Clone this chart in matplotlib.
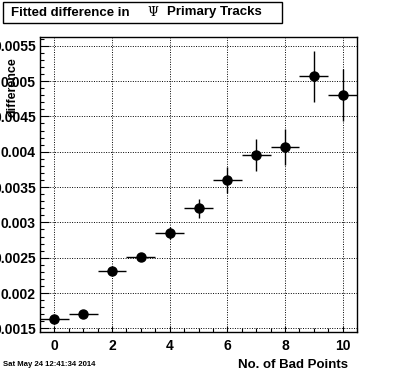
import matplotlib
matplotlib.use("Agg")
import matplotlib.pyplot as plt
from matplotlib.patches import Rectangle
from matplotlib.ticker import MultipleLocator

n_bad = [0, 1, 2, 3, 4, 5, 6, 7, 8, 9, 10]
diff = [0.00163, 0.001705, 0.002318, 0.002507, 0.002851, 0.0032, 0.0036,
        0.00395, 0.004067, 0.005067, 0.004798]
diff_err = [0.00002, 0.00003, 0.00004, 0.00005, 0.00008, 0.000134, 0.000184,
            0.000226, 0.000248, 0.00036, 0.00037]
x_err = [0.5] * len(n_bad)
y_ticks = [0.0015, 0.002, 0.0025, 0.003, 0.0035, 0.004, 0.0045, 0.005, 0.0055]
y_tick_labels = ["0.0015", "0.002", "0.0025", "0.003", "0.0035", "0.004",
                 "0.0045", "0.005", "0.0055"]
x_ticks = [0, 2, 4, 6, 8, 10]

FONT = "Liberation Sans"

fig = plt.figure(figsize=(3.96, 3.72), dpi=100)
ax = fig.add_axes([40/396, 1 - 332/372, (357-40)/396, (332-37)/372])

ax.errorbar(n_bad, diff, yerr=diff_err, xerr=x_err, fmt='o', color='black',
            markersize=6.5, elinewidth=1.0, capsize=0, clip_on=True)

ax.set_xlim(-0.5, 10.5)
ax.set_ylim(0.00145, 0.005623)

ax.set_xticks(x_ticks)
ax.set_xticklabels([str(v) for v in x_ticks])
ax.xaxis.set_minor_locator(MultipleLocator(0.5))
ax.set_yticks(y_ticks)
ax.set_yticklabels(y_tick_labels)
ax.yaxis.set_minor_locator(MultipleLocator(0.0001))

ax.tick_params(axis='both', which='both', direction='in', top=False, right=False,
               color='black', width=0.8)
ax.tick_params(axis='y', which='major', length=6.5, pad=3)
ax.tick_params(axis='y', which='minor', length=3.2)
ax.tick_params(axis='x', which='major', length=4.3, pad=5)
ax.tick_params(axis='x', which='minor', length=2.7)

for lab in ax.get_xticklabels() + ax.get_yticklabels():
    lab.set_fontfamily(FONT)
    lab.set_fontweight('bold')
    lab.set_fontsize(10)

ax.grid(True, which='major', color='black', linestyle=(0, (1, 1.5)), linewidth=0.7)
for s in ax.spines.values():
    s.set_linewidth(1.0)

ax.set_xlabel("No. of Bad Points", fontfamily=FONT, fontweight='bold', fontsize=9.5)
ax.xaxis.set_label_coords((348-40)/317, -0.09)
ax.xaxis.label.set_horizontalalignment('right')
ax.set_ylabel("difference", fontfamily=FONT, fontweight='bold', fontsize=9)
ax.yaxis.set_label_coords(-0.068, 0.83)

# Title box
fig.patches.append(Rectangle((3/396, 1 - 23/372), (282-3)/396, (23-2)/372,
                             transform=fig.transFigure, facecolor='white',
                             edgecolor='black', linewidth=1.0))
fig.text(11/396, 1 - 12.5/372, "Fitted difference in", fontfamily=FONT,
         fontweight='bold', fontsize=9.5, va='center', ha='left')
fig.text(147/396, 1 - 12.5/372, "Ψ", fontfamily="DejaVu Serif",
         fontsize=9, va='center', ha='left')
fig.text(167/396, 1 - 12.5/372, "Primary Tracks", fontfamily=FONT,
         fontweight='bold', fontsize=9.5, va='center', ha='left')

fig.text(3/396, 1 - 364/372, "Sat May 24 12:41:34 2014", fontfamily=FONT,
         fontweight='bold', fontsize=5.6, va='center', ha='left')

fig.savefig("out.png", dpi=100)
